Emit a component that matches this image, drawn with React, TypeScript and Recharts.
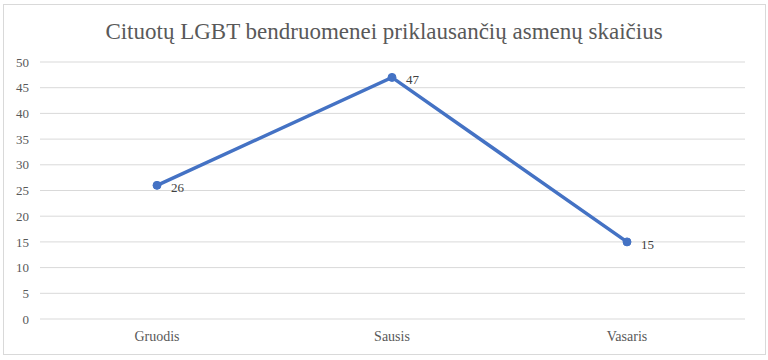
import React from "react";
import { LineChart, Line, XAxis, YAxis, CartesianGrid, LabelList } from "recharts";

const months = ["Gruodis", "Sausis", "Vasaris"];
const counts = [26, 47, 15];
const yTicks = [0, 5, 10, 15, 20, 25, 30, 35, 40, 45, 50];
const title = "Cituotų LGBT bendruomenei priklausančių asmenų skaičius";

const data = months.map((m, i) => ({ month: m, value: counts[i] }));

const font = "'Liberation Serif', 'Times New Roman', serif";

export default function App() {
  return (
    <div style={{ position: "absolute", left: 0, top: 0, width: 768, height: 360, background: "#fff", fontFamily: font }}>
      <div style={{ position: "absolute", left: 3, top: 4, width: 761, height: 349, border: "1px solid #d9d9d9" }} />
      <div style={{ position: "absolute", left: 0, top: 19, width: 768, textAlign: "center", fontSize: 23, color: "#595959" }}>
        {title}
      </div>
      <div style={{ position: "absolute", left: 0, top: 0 }}>
        <LineChart width={768} height={360} data={data} margin={{ top: 62, right: 23, bottom: 11, left: 0 }}>
          <CartesianGrid vertical={false} stroke="#d9d9d9" strokeWidth={1} />
          <XAxis
            dataKey="month"
            axisLine={false}
            tickLine={false}
            height={30}
            tickMargin={6}
            padding={{ left: 117, right: 118 }}
            tick={{ fill: "#595959", fontSize: 14, fontFamily: font }}
          />
          <YAxis
            domain={[0, 50]}
            ticks={yTicks}
            axisLine={false}
            tickLine={false}
            width={40}
            tickMargin={5}
            interval={0}
            tick={{ fill: "#595959", fontSize: 13, fontFamily: font }}
          />
          <Line
            type="linear"
            dataKey="value"
            stroke="#4472C4"
            strokeWidth={3.5}
            dot={{ r: 4, fill: "#4472C4", stroke: "#4472C4", strokeWidth: 1 }}
            isAnimationActive={false}
          >
            <LabelList dataKey="value" position="right" offset={14} dy={2} fill="#404040" fontSize={13} fontFamily={font} />
          </Line>
        </LineChart>
      </div>
    </div>
  );
}
